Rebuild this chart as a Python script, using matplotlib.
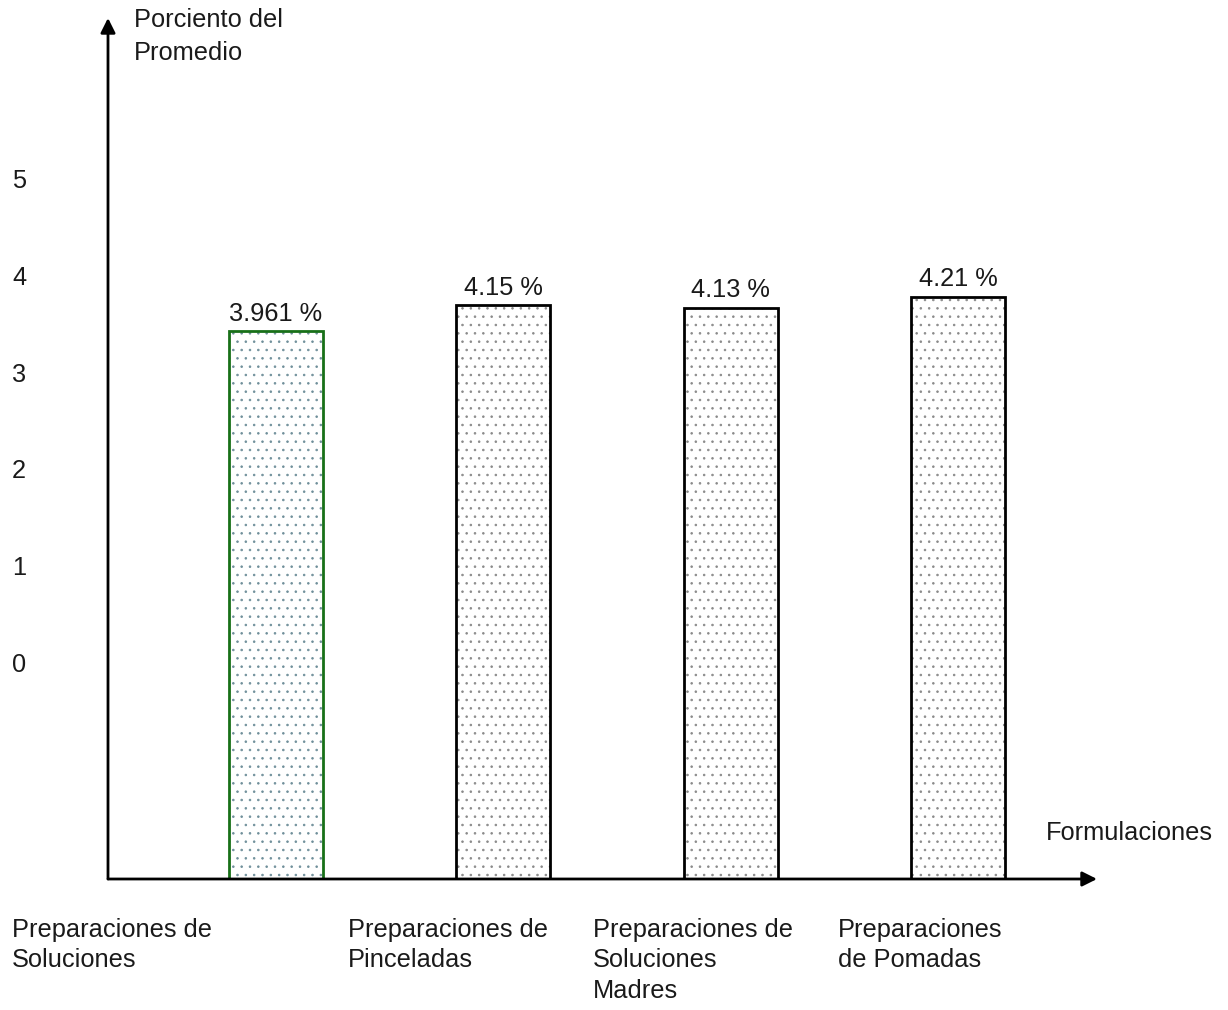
import matplotlib
matplotlib.use("Agg")
import matplotlib.pyplot as plt
import numpy as np

plt.rcParams["font.family"] = ["Liberation Sans", "DejaVu Sans"]
plt.rcParams["hatch.linewidth"] = 0.6

# Data
categories = [
    "Preparaciones de\nSoluciones",
    "Preparaciones de\nPinceladas",
    "Preparaciones de\nSoluciones\nMadres",
    "Preparaciones\nde Pomadas",
]
values = [3.961, 4.15, 4.13, 4.21]
value_labels = ["3.961 %", "4.15 %", "4.13 %", "4.21 %"]
scale_ticks = [0, 1, 2, 3, 4, 5]
y_title = "Porciento del\nPromedio"
x_title = "Formulaciones"

# Styles
edge_colors = ["#187018", "black", "black", "black"]
dot_colors = ["#6f8f9a", "#8a8a8a", "#8a8a8a", "#8a8a8a"]
label_x_px = [12, 348, 593, 838]
text_color = "#1a1a1a"
fs = 18.3

W, H = 1228, 1010


def px_rect(left, top, right, bottom):
    return [left / W, 1 - bottom / H, (right - left) / W, (bottom - top) / H]


fig = plt.figure(figsize=(W / 100, H / 100), dpi=100)

ax = fig.add_axes(px_rect(108, 18, 1097, 879))
x = np.arange(len(values))
ax.set_xlim(-0.739, 3.611)
ax.set_ylim(0, 6.226)
bar_w = 0.413

# dotted fill, then the outline
ax.bar(x, values, width=bar_w, color="white", edgecolor=dot_colors,
       hatch="..", linewidth=0, zorder=2)
ax.bar(x, values, width=bar_w, fill=False, edgecolor=edge_colors,
       linewidth=2.0, zorder=3)

for xi, v, lab in zip(x, values, value_labels):
    ax.annotate(lab, (xi, v), xytext=(0, 4), textcoords="offset points",
                ha="center", va="bottom", fontsize=fs, color=text_color)

for s in ax.spines.values():
    s.set_visible(False)
ax.set_xticks([])
ax.set_yticks([])
ax.patch.set_alpha(0)

arrow = dict(arrowstyle="-|>", lw=2.0, color="black", mutation_scale=22,
             shrinkA=0, shrinkB=0)
ax.annotate("", xy=(0, 1), xytext=(0, 0), xycoords="axes fraction",
            textcoords="axes fraction", arrowprops=arrow, zorder=5)
ax.annotate("", xy=(1, 0), xytext=(0, 0), xycoords="axes fraction",
            textcoords="axes fraction", arrowprops=arrow, zorder=5)

# axis titles
fig.text(134 / W, 1 - 8 / H, y_title, ha="left", va="top", fontsize=fs,
         linespacing=1.45, color=text_color)
fig.text(1046 / W, 1 - 833 / H, x_title, ha="left", va="center", fontsize=fs,
         color=text_color)

# category labels under the axis
for px, lab in zip(label_x_px, categories):
    fig.text(px / W, 1 - 918 / H, lab, ha="left", va="top", fontsize=fs,
             linespacing=1.33, color=text_color)

# scale on the left
tick_ax = fig.add_axes(px_rect(108, 179, 1097, 662))
tick_ax.set_ylim(0, 5)
tick_ax.set_yticks(scale_ticks)
tick_ax.set_yticklabels([str(t) for t in scale_ticks], fontsize=fs,
                        color=text_color)
tick_ax.tick_params(axis="y", length=0, pad=59)
tick_ax.set_xticks([])
for s in tick_ax.spines.values():
    s.set_visible(False)
tick_ax.patch.set_alpha(0)

fig.savefig("out.png", dpi=100)
